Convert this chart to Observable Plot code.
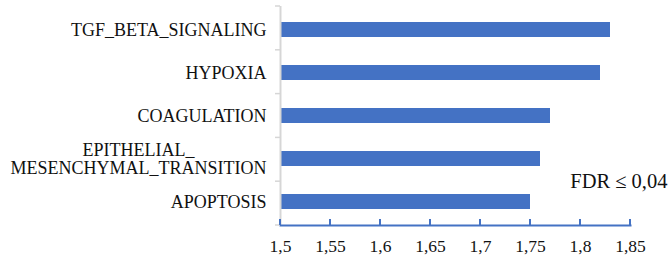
<!DOCTYPE html>
<html><head><meta charset="utf-8">
<script src="https://cdn.jsdelivr.net/npm/d3@7"></script>
<script src="https://cdn.jsdelivr.net/npm/@observablehq/plot@0.6"></script>
<style>body{margin:0;background:#fff;} svg{display:block} svg text{font-family:'Liberation Serif','Times New Roman',serif !important;}</style>
</head><body><div id="chart"></div>
<script>
const categories = ["TGF_BETA_SIGNALING", "HYPOXIA", "COAGULATION", "EPITHELIAL_\nMESENCHYMAL_TRANSITION", "APOPTOSIS"];
const values = [1.83, 1.82, 1.77, 1.76, 1.75];
const xMin = 1.5, xMax = 1.85;
const xTicks = [1.5, 1.55, 1.6, 1.65, 1.7, 1.75, 1.8, 1.85];
const xTickLabels = ["1,5", "1,55", "1,6", "1,65", "1,7", "1,75", "1,8", "1,85"];
const noteLabel = "FDR ≤ 0,04";

const barColor = "#4472C4";
const serif = "'Liberation Serif', 'Times New Roman', serif";
const data = categories.map((c, i) => ({category: c, value: values[i]}));

const plot = Plot.plot({
  width: 668, height: 262,
  marginTop: 6, marginBottom: 37, marginLeft: 280, marginRight: 38,
  style: {fontFamily: serif, background: "#fff", color: "#111"},
  x: {domain: [xMin, xMax]},
  y: {domain: categories, paddingInner: 0.645, paddingOuter: 0.3225},
  marks: [
    Plot.barX(data, {y: "category", x1: () => xMin, x2: "value", fill: barColor}),
    Plot.ruleX([xMin], {stroke: "#d6d6d6", strokeWidth: 2}),
    Plot.frame({anchor: "bottom", stroke: barColor, strokeWidth: 2}),
    Plot.axisY({tickSize: 0, tickPadding: 14, fontSize: 18, fontFamily: serif, lineHeight: 1.04, label: null}),
    Plot.axisX({ticks: xTicks, tickFormat: (d) => xTickLabels[xTicks.indexOf(d)], tickSize: 0, tickPadding: 14, fontSize: 17.5, fontFamily: serif, label: null}),
    Plot.text([noteLabel], {frameAnchor: "bottom-right", textAnchor: "end", dx: 37, dy: -37.5, fontSize: 20.5, fontFamily: serif, fill: "#111"})
  ]
});
document.getElementById("chart").append(plot);

// tick marks: category boundaries on y, inward ticks on x
const xs = plot.scale("x"), ys = plot.scale("y");
const svg = d3.select(plot);
const [r0, r1] = ys.range;
const step = (r1 - r0) / categories.length;
const g = svg.append("g");
const x0 = xs.apply(xMin);
for (let i = 0; i <= categories.length; i++) {
  const yy = r0 + i * step;
  g.append("line").attr("x1", x0 - 5).attr("x2", x0).attr("y1", yy).attr("y2", yy)
    .attr("stroke", "#d6d6d6").attr("stroke-width", 1.5);
}
xTicks.forEach(t => {
  const xx = xs.apply(t);
  g.append("line").attr("x1", xx).attr("x2", xx).attr("y1", r1).attr("y2", r1 - 6)
    .attr("stroke", barColor).attr("stroke-width", 2);
});

// center multi-line category labels relative to each other
svg.selectAll("g[aria-label='y-axis tick label'] text").each(function() {
  const tspans = d3.select(this).selectAll("tspan");
  if (tspans.size() > 1) {
    let w = 0;
    tspans.each(function() { w = Math.max(w, this.getComputedTextLength()); });
    d3.select(this).attr("text-anchor", "middle");
    tspans.attr("x", -w / 2);
  }
});
</script>
</body></html>
